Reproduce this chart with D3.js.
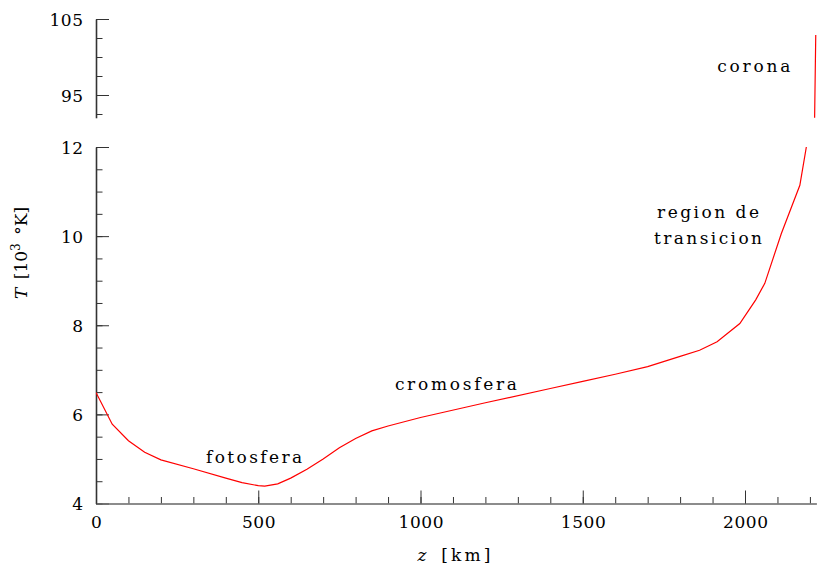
<!DOCTYPE html>
<html>
<head>
<meta charset="utf-8">
<script src="https://cdn.jsdelivr.net/npm/d3@7"></script>
<style>
  html, body { margin: 0; padding: 0; background: #fff; }
  svg { display: block; }
  svg text { font-family: 'DejaVu Serif', 'Liberation Serif', serif !important; font-weight: normal; fill: #000; }
</style>
</head>
<body>
<svg id="chart" width="817" height="565"></svg>
<script>
// Height above the base of the photosphere (km) and temperature (10^3 K)
const heightKm = [0, 50, 100, 150, 200, 300, 400, 450, 500, 520, 560, 600, 650, 700, 750, 800, 850, 900, 1000, 1200, 1400, 1500, 1600, 1700, 1800, 1860, 1914, 1984, 2033, 2061, 2112, 2169, 2189, 2218];
const tempK3  = [6.49, 5.78, 5.41, 5.15, 4.98, 4.78, 4.57, 4.47, 4.40, 4.39, 4.44, 4.57, 4.77, 5.00, 5.25, 5.46, 5.63, 5.74, 5.93, 6.26, 6.58, 6.74, 6.90, 7.07, 7.30, 7.44, 7.63, 8.04, 8.57, 8.94, 10.06, 11.14, 12.0, 102.9];

// Axis ticks
const xMajorTicks = [0, 500, 1000, 1500, 2000];
const xMinorTicks = d3.range(0, 2201, 100);
const yLowMajorTicks = [4, 6, 8, 10, 12];
const yLowMinorTicks = d3.range(4, 12.01, 0.5);
const yHighMajorTicks = [95, 105];
const yHighMinorTicks = [92.5, 95, 97.5, 100, 102.5, 105];

// Region labels (centre height in km, baseline temperature)
const regionLabels = [
  { lines: ["fotosfera"], z: 487, t: 4.91 },
  { lines: ["cromosfera"], z: 1109, t: 6.545 },
  { lines: ["region de", "transicion"], z: 1886, t: 10.40 },
  { lines: ["corona"], z: 2027, t: 98.03 }
];

const svg = d3.select("#chart");

const x = d3.scaleLinear().domain([0, 2220]).range([96, 816.4]);
const yLow = d3.scaleLinear().domain([4, 12]).range([503.5, 147]);
const yHigh = d3.scaleLinear().domain([92, 105]).range([117.8, 19]);

const pts = heightKm.map((z, i) => [z, tempK3[i]]);

// Clip regions for the two panels of the broken temperature axis
const defs = svg.append("defs");
defs.append("clipPath").attr("id", "clipLow").append("rect")
  .attr("x", x.range()[0]).attr("y", yLow.range()[1])
  .attr("width", x.range()[1] - x.range()[0] + 2)
  .attr("height", yLow.range()[0] - yLow.range()[1]);
defs.append("clipPath").attr("id", "clipHigh").append("rect")
  .attr("x", x.range()[0]).attr("y", yHigh.range()[1])
  .attr("width", x.range()[1] - x.range()[0] + 2)
  .attr("height", yHigh.range()[0] - yHigh.range()[1]);

const axisColor = "#333";
const fontSize = 17;
const charAdv = 11.5;

function styleAxis(g) {
  g.selectAll("line").attr("stroke", axisColor).attr("stroke-width", 1);
  g.selectAll("path.domain").attr("stroke", axisColor).attr("stroke-width", 1.6);
  g.selectAll("text")
    .attr("font-size", fontSize)
    .attr("font-family", null)
    .attr("fill", "#000")
    .attr("textLength", d => String(d).length * charAdv - 1)
    .attr("lengthAdjust", "spacing");
}

// Lower temperature axis
const gLow = svg.append("g").attr("transform", `translate(${x.range()[0]},0)`);
gLow.append("g")
  .call(d3.axisLeft(yLow).tickValues(yLowMinorTicks).tickSizeInner(-6.5).tickSizeOuter(0).tickFormat(""))
  .call(g => g.select("path.domain").remove())
  .call(styleAxis);
gLow.append("g")
  .call(d3.axisLeft(yLow).tickValues(yLowMajorTicks).tickSizeInner(-13).tickSizeOuter(0).tickPadding(13).tickFormat(d3.format("d")))
  .call(styleAxis)
  .call(g => g.selectAll("text").attr("dy", "0.36em"));

// Upper temperature axis
const gHigh = svg.append("g").attr("transform", `translate(${x.range()[0]},0)`);
gHigh.append("g")
  .call(d3.axisLeft(yHigh).tickValues(yHighMinorTicks).tickSizeInner(-6.5).tickSizeOuter(0).tickFormat(""))
  .call(g => g.select("path.domain").remove())
  .call(styleAxis);
gHigh.append("g")
  .call(d3.axisLeft(yHigh).tickValues(yHighMajorTicks).tickSizeInner(-13).tickSizeOuter(0).tickPadding(13).tickFormat(d3.format("d")))
  .call(styleAxis)
  .call(g => g.selectAll("text").attr("dy", "0.36em"));

// Height axis
const gX = svg.append("g").attr("transform", `translate(0,${yLow.range()[0]})`);
gX.append("g")
  .call(d3.axisBottom(x).tickValues(xMinorTicks).tickSizeInner(-6.5).tickSizeOuter(0).tickFormat(""))
  .call(g => g.select("path.domain").remove())
  .call(styleAxis);
gX.append("g")
  .call(d3.axisBottom(x).tickValues(xMajorTicks).tickSizeInner(-13).tickSizeOuter(0).tickPadding(12).tickFormat(d3.format("d")))
  .call(styleAxis)
  .call(g => g.selectAll("text").attr("dy", "0.71em"))
  .call(g => g.select("path.domain").attr("stroke", "#666"));

// Temperature profile, drawn once per panel
const lineLow = d3.line().x(d => x(d[0])).y(d => yLow(d[1]));
const lineHigh = d3.line().x(d => x(d[0])).y(d => yHigh(d[1]));
svg.append("path").attr("clip-path", "url(#clipLow)")
  .attr("d", lineLow(pts)).attr("fill", "none").attr("stroke", "#ff0000").attr("stroke-width", 1.2);
svg.append("path").attr("clip-path", "url(#clipHigh)")
  .attr("d", lineHigh(pts)).attr("fill", "none").attr("stroke", "#ff0000").attr("stroke-width", 1.2);

// Region labels
const labelWidth = { "fotosfera": 96, "cromosfera": 122, "region de": 102, "transicion": 108, "corona": 73 };
regionLabels.forEach(l => {
  const yScale = l.t > 50 ? yHigh : yLow;
  const cx = x(l.z);
  const cy = yScale(l.t);
  l.lines.forEach((s, i) => {
    svg.append("text")
      .attr("x", cx)
      .attr("y", cy + i * 26)
      .attr("text-anchor", "middle")
      .attr("font-size", fontSize)
      .attr("textLength", labelWidth[s])
      .attr("lengthAdjust", "spacing")
      .text(s);
  });
});

// Axis titles
const xTitle = svg.append("text")
  .attr("x", 454).attr("y", 561)
  .attr("text-anchor", "middle")
  .attr("font-size", fontSize)
  .attr("textLength", 73)
  .attr("lengthAdjust", "spacing");
xTitle.append("tspan").attr("font-style", "italic").text("z");
xTitle.append("tspan").text("\u2002[km]");

const yTitle = svg.append("text")
  .attr("transform", "translate(27,253) rotate(-90)")
  .attr("text-anchor", "middle")
  .attr("font-size", fontSize);
yTitle.append("tspan").attr("font-style", "italic").text("T");
yTitle.append("tspan").text("\u2002[10");
yTitle.append("tspan").attr("font-size", 12).attr("dy", -7).text("3");
yTitle.append("tspan").attr("dy", 7).text("\u2002\u00B0K]");
</script>
</body>
</html>
